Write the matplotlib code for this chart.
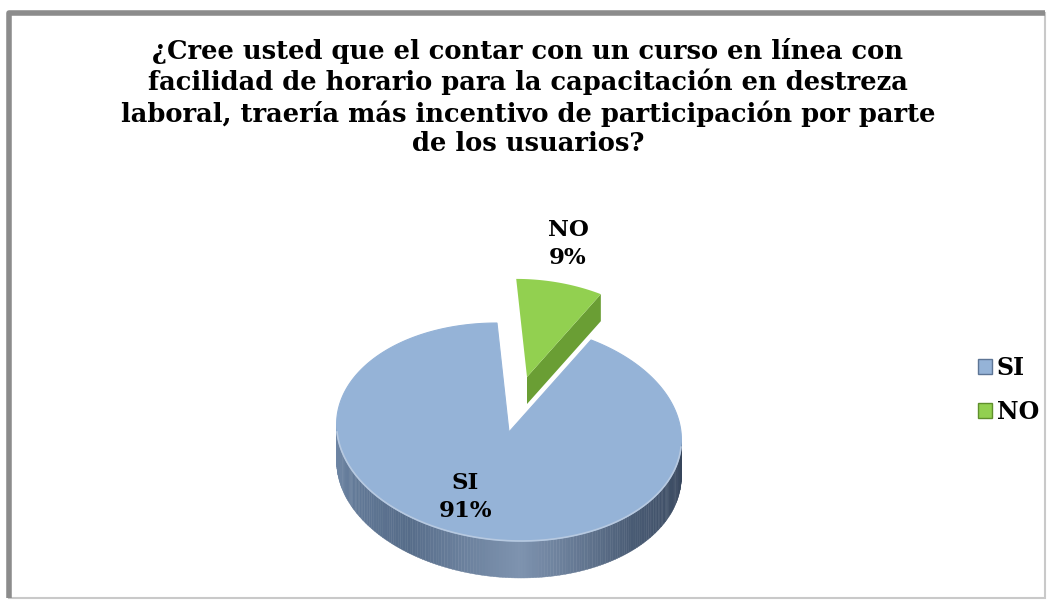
import numpy as np
import matplotlib.pyplot as plt
from matplotlib.patches import Polygon, Rectangle, Patch
from matplotlib.collections import PolyCollection
from matplotlib.colors import LinearSegmentedColormap

# datos de la encuesta
labels = ['SI', 'NO']
values = [91, 9]
top_colors = ['#95b3d7', '#92d050']
side_colors = ['#4f6582', '#6a9e34']

title = ('¿Cree usted que el contar con un curso en línea con\n'
         'facilidad de horario para la capacitación en destreza\n'
         'laboral, traería más incentivo de participación por parte\n'
         'de los usuarios?')

W, H = 1049, 603
fig = plt.figure(figsize=(W / 100, H / 100), dpi=100)
ax = fig.add_axes([0, 0, 1, 1])
ax.set_xlim(0, W)
ax.set_ylim(H, 0)
ax.axis('off')

# marco del grafico
ax.add_patch(Rectangle((9, 13), 1036, 585, fill=False, ec='#c9c9c9', lw=1.5))
ax.plot([9, 9, 1045], [598, 13, 13], color='#8c8c8c', lw=4, solid_capstyle='butt')

# geometria del pastel "3D"
cx, cy, a, b, depth = 509, 432, 172, 109, 37
shear = 0.11
explode = {'NO': (18, -55, 0.9, 27)}  # dx, dy, escala, profundidad


def pt(t, ox=0.0, oy=0.0, s=1.0):
    t = np.radians(t)
    x = cx + ox + s * (a * np.cos(t) - shear * b * np.sin(t))
    y = cy + oy - s * b * np.sin(t)
    return np.column_stack([np.atleast_1d(x), np.atleast_1d(y)])


fracs = np.array(values) / np.sum(values)
order = [1, 0]  # en sentido horario desde las 12: NO, luego SI
spans = {}
start = 90.0
for i in order:
    spans[labels[i]] = (start - 360 * fracs[i], start)
    start -= 360 * fracs[i]

side_cmap = LinearSegmentedColormap.from_list(
    'lado', [(0.0, '#6f87a6'), (0.3, '#566c89'), (0.52, '#7e93af'),
             (0.75, '#4a5c75'), (1.0, '#36455b')])

# silueta: extremos izquierdo y derecho de la elipse inclinada
t_ext = np.degrees(np.arctan(-shear * b / a))

# SI: cara lateral frontal
t0, t1 = spans['SI']
ts = np.linspace(t_ext - 180, t_ext, 181)
quads, cols = [], []
for k in range(len(ts) - 1):
    p = pt(ts[k:k + 2])
    q = p + [0, depth]
    quads.append(np.vstack([p, q[::-1]]))
    cols.append(side_cmap(k / (len(ts) - 2)))
ax.add_collection(PolyCollection(quads, facecolors=cols, edgecolors='face',
                                 lw=0.3, antialiased=True))

# SI: cara superior
tt = np.linspace(t0, t1, 400)
ax.add_patch(Polygon(np.vstack([pt(0, 0, 0, 0), pt(tt)]), closed=True,
                     fc=top_colors[0], ec=top_colors[0], lw=0.8))
edge = pt(np.linspace(t_ext - 176, t_ext - 4, 200))
ax.plot(edge[:, 0], edge[:, 1], color='#b7c9e0', lw=1.2)

# NO: porcion separada
ox, oy, s, d = explode['NO']
n0, n1 = spans['NO']
apex = pt(0, ox, oy, 0)
corner = pt(n0, ox, oy, s)
ax.add_patch(Polygon(np.vstack([apex, corner, corner + [0, d], apex + [0, d]]),
                     closed=True, fc=side_colors[1], ec='none'))
tt = np.linspace(n0, n1, 60)
ax.add_patch(Polygon(np.vstack([apex, pt(tt, ox, oy, s)]), closed=True,
                     fc=top_colors[1], ec='none'))

font = dict(family='DejaVu Serif', fontweight='bold', color='black')

ax.text(528, 97, title, ha='center', va='center', fontsize=18.5,
        linespacing=1.22, **font)

# etiquetas de datos
lab_pos = {'SI': (465, 497), 'NO': (568, 244)}
for lab, v in zip(labels, values):
    x, y = lab_pos[lab]
    ax.text(x, y, f'{lab}\n{v}%', ha='center', va='center', fontsize=16.5,
            linespacing=1.35, **font)

handles = [Patch(fc=top_colors[0], ec='#5d7595', lw=1),
           Patch(fc=top_colors[1], ec='#5f8f2c', lw=1)]
leg = ax.legend(handles, labels, loc='center left', bbox_to_anchor=(0.912, 0.353),
                frameon=False, handlelength=0.6, handleheight=0.6,
                handletextpad=0.2, labelspacing=0.85,
                prop=dict(family='DejaVu Serif', weight='bold', size=17))

fig.savefig('out.png', dpi=100, facecolor='white')
